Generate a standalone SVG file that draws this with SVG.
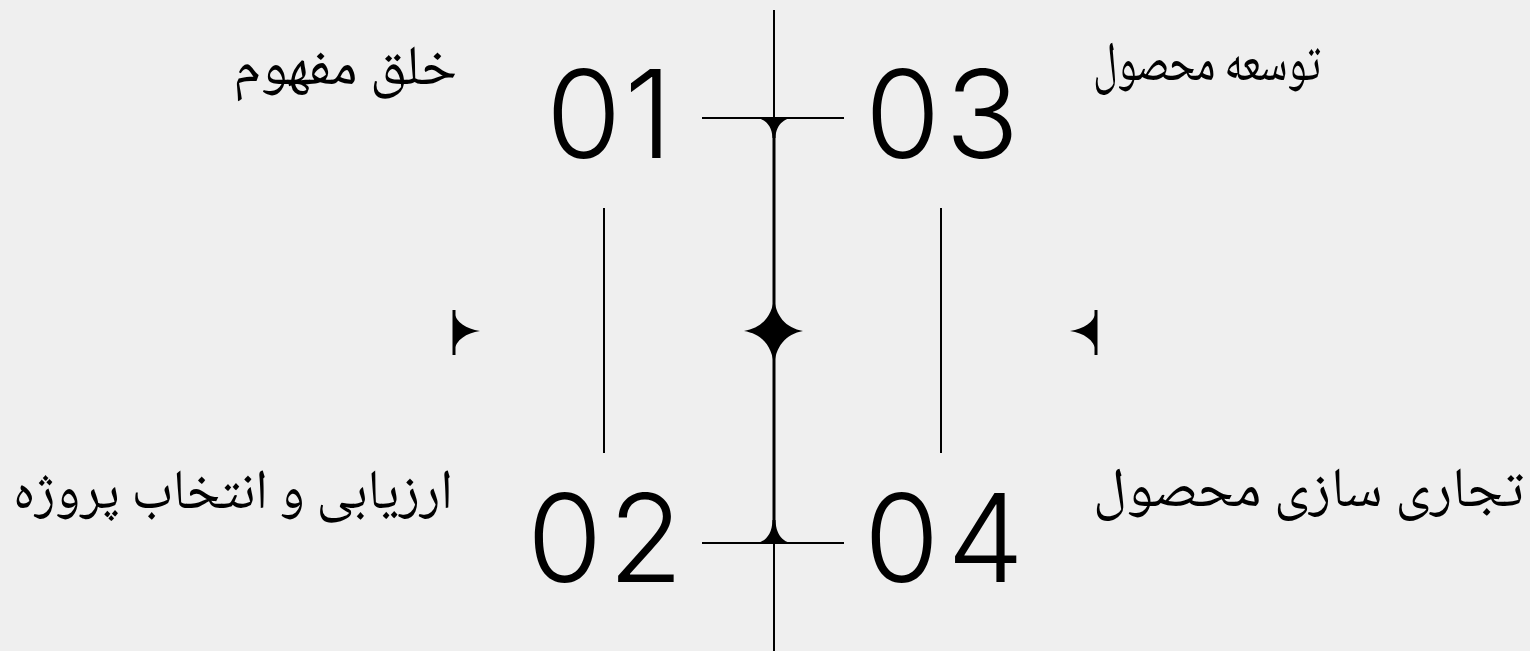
<svg xmlns="http://www.w3.org/2000/svg" width="1530" height="651" viewBox="0 0 1530 651">
  <style>
    .num { font-family: Inter, "Noto Sans", "DejaVu Sans", sans-serif; font-weight: 260; font-size: 122px; fill: #000; }
    .lbl { font-family: "Noto Naskh Arabic", "Noto Sans Arabic", "DejaVu Sans", sans-serif; font-size: 56px; fill: #000; }
    .thin { stroke: #000; stroke-width: 2; fill: none; }
    .thick { stroke: #000; stroke-width: 3; fill: none; }
    .fill { fill: #000; stroke: none; }
  </style>
  <rect x="0" y="0" width="1530" height="651" fill="#efefef"/>

  <g id="connectors">
    <line class="thin" x1="774" y1="10" x2="774" y2="118"/>
    <line class="thick" x1="774" y1="118" x2="774" y2="543"/>
    <line class="thin" x1="774" y1="543" x2="774" y2="651"/>
    <line class="thin" x1="702" y1="118" x2="844" y2="118"/>
    <line class="thin" x1="702" y1="543" x2="844" y2="543"/>
    <path class="fill" d="M750,117 H798 C786,117 776,123 775.5,138 H772.5 C772,123 762,117 750,117 Z"/>
    <path class="fill" d="M750,544 H798 C786,544 776,538 775.5,520 H772.5 C772,538 762,544 750,544 Z"/>
    <path class="fill" d="M774,296 C775,316 786,328 803,331 C786,334 775,346 774,368 C773,346 762,334 744,331 C762,328 773,316 774,296 Z"/>
    <line class="thin" x1="604" y1="208" x2="604" y2="453"/>
    <line class="thin" x1="941" y1="208" x2="941" y2="453"/>
  </g>

  <g id="marker-left">
    <line class="thick" x1="454" y1="310" x2="454" y2="355"/>
    <path class="fill" d="M454,312 C456,322 466,329 480,331 C466,333 456,340 454,351 Z"/>
  </g>
  <g id="marker-right">
    <line class="thick" x1="1096" y1="310" x2="1096" y2="355"/>
    <path class="fill" d="M1096,312 C1094,322 1084,329 1070,331 C1084,333 1094,340 1096,351 Z"/>
  </g>

  <g id="node-01">
    <text class="num" x="546" y="158" letter-spacing="3">01</text>
    <text class="lbl" x="233" y="84" textLength="224" lengthAdjust="spacingAndGlyphs">خلق مفهوم</text>
  </g>
  <g id="node-02">
    <text class="num" x="527" y="582" letter-spacing="6">02</text>
    <text class="lbl" x="13" y="508" textLength="440" lengthAdjust="spacingAndGlyphs">ارزیابی و انتخاب پروژه</text>
  </g>
  <g id="node-03">
    <text class="num" x="865" y="158" letter-spacing="5">03</text>
    <text class="lbl" x="1093" y="80" textLength="228" lengthAdjust="spacingAndGlyphs">توسعه محصول</text>
  </g>
  <g id="node-04">
    <text class="num" x="864" y="582" letter-spacing="8">04</text>
    <text class="lbl" x="1093" y="506" textLength="431" lengthAdjust="spacingAndGlyphs">تجاری سازی محصول</text>
  </g>
</svg>
